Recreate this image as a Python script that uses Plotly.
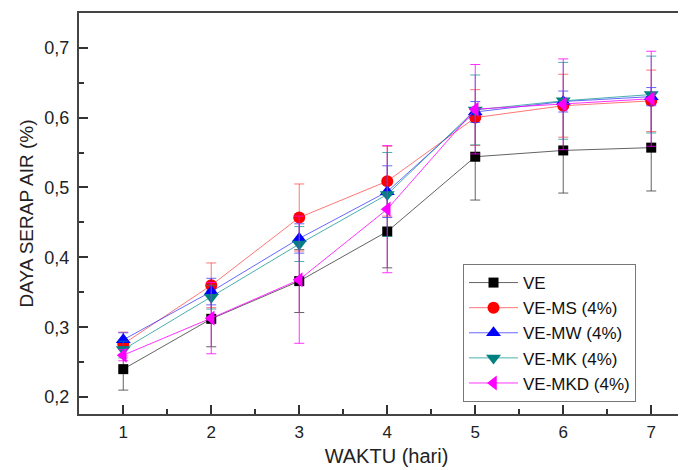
import plotly.graph_objects as go

days = [1, 2, 3, 4, 5, 6, 7]

series_names = ["VE", "VE-MS (4%)", "VE-MW (4%)", "VE-MK (4%)", "VE-MKD (4%)"]

ve = [0.240, 0.312, 0.366, 0.437, 0.544, 0.553, 0.557]
ve_err = [0.030, 0.040, 0.045, 0.052, 0.062, 0.061, 0.062]

ve_ms = [0.276, 0.360, 0.457, 0.509, 0.600, 0.617, 0.624]
ve_ms_err = [0.017, 0.032, 0.048, 0.050, 0.040, 0.045, 0.044]

ve_mw = [0.282, 0.351, 0.427, 0.494, 0.608, 0.623, 0.630]
ve_mw_err = [0.010, 0.019, 0.021, 0.037, 0.015, 0.015, 0.013]

ve_mk = [0.268, 0.343, 0.419, 0.490, 0.611, 0.624, 0.633]
ve_mk_err = [0.012, 0.017, 0.025, 0.060, 0.050, 0.055, 0.055]

ve_mkd = [0.260, 0.313, 0.368, 0.469, 0.612, 0.619, 0.627]
ve_mkd_err = [0.008, 0.051, 0.091, 0.091, 0.064, 0.065, 0.068]

values = [ve, ve_ms, ve_mw, ve_mk, ve_mkd]
errors = [ve_err, ve_ms_err, ve_mw_err, ve_mk_err, ve_mkd_err]

marker_colors = ["#000000", "#ff0000", "#0000ff", "#008080", "#ff00ff"]
line_colors = ["rgba(60,60,60,0.8)", "rgba(255,60,60,0.7)", "rgba(40,40,255,0.7)",
               "rgba(0,140,140,0.7)", "rgba(255,0,255,0.8)"]
symbols = ["square", "circle", "triangle-up", "triangle-down", "triangle-left"]
sizes = [10, 12, 13, 13, 13]

fig = go.Figure()
for name, y, e, mc, lc, sym, sz in zip(series_names, values, errors, marker_colors,
                                        line_colors, symbols, sizes):
    fig.add_trace(go.Scatter(
        x=days, y=y, name=name, mode="lines+markers",
        line=dict(color=lc, width=1),
        marker=dict(color=mc, symbol=sym, size=sz, line=dict(width=0)),
        error_y=dict(type="data", array=e, visible=True, color=lc, thickness=1, width=5),
    ))

font_family = "Liberation Sans, Arial, sans-serif"

fig.update_layout(
    width=686, height=470,
    margin=dict(l=71, r=0, t=5, b=64),
    paper_bgcolor="white", plot_bgcolor="white",
    separators=",.",
    font=dict(family=font_family, color="#222222", size=17),
    showlegend=True,
    legend=dict(
        x=0.6244, y=0.374, xanchor="left", yanchor="top",
        bgcolor="white", bordercolor="#777777", borderwidth=1,
        font=dict(family=font_family, size=17, color="#111111"),
        tracegroupgap=0, itemwidth=49,
    ),
    xaxis=dict(
        range=[0.497, 7.486], tickmode="linear", tick0=1, dtick=1,
        ticks="inside", ticklen=9, tickwidth=1.5, tickcolor="#333333",
        minor=dict(ticks="inside", ticklen=5, tickwidth=1.5, tickcolor="#333333", dtick=0.5),
        showline=True, linecolor="#444444", linewidth=2, mirror=True,
        showgrid=False, zeroline=False, automargin=False,
        tickfont=dict(size=17), ticklabelstandoff=2,
        title=dict(text="WAKTU (hari)", font=dict(size=20), standoff=8),
    ),
    yaxis=dict(
        range=[0.1758, 0.7497], tickmode="linear", tick0=0.2, dtick=0.1, tickformat=".1f",
        ticks="inside", ticklen=9, tickwidth=1.5, tickcolor="#333333",
        minor=dict(ticks="inside", ticklen=5, tickwidth=1.5, tickcolor="#333333", dtick=0.05),
        showline=True, linecolor="#444444", linewidth=2, mirror=False,
        showgrid=False, zeroline=False, automargin=False,
        tickfont=dict(size=18), ticklabelstandoff=4,
        title=dict(text="DAYA SERAP AIR (%)", font=dict(size=19), standoff=6),
    ),
)

fig.write_html("out.html")
